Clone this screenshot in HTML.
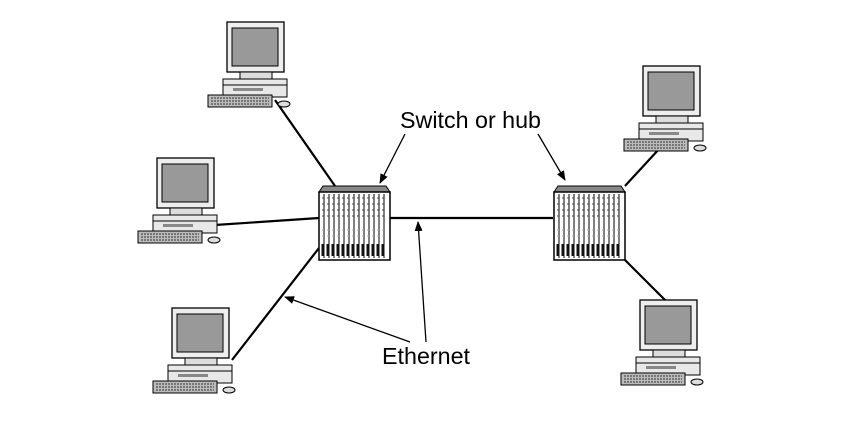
<!DOCTYPE html><html><head><style>body{margin:0;background:#fff}svg{display:block}</style></head><body>
<svg width="857" height="431" viewBox="0 0 857 431" xmlns="http://www.w3.org/2000/svg" font-family="Liberation Sans, sans-serif">
<defs>
<g id="pc">
<rect x="0" y="0" width="57" height="50" fill="#eee" stroke="#000" stroke-width="1.3"/>
<rect x="5" y="6" width="46" height="38" fill="#999" stroke="#000" stroke-width="1"/>
<rect x="13" y="50" width="32" height="7" fill="#ddd" stroke="#000"/>
<rect x="-4" y="57" width="64" height="18" fill="#e8e8e8" stroke="#000"/>
<line x1="-4" y1="63" x2="60" y2="63" stroke="#000"/>
<rect x="6" y="66" width="30" height="3" fill="#888"/>
<rect x="-19" y="73" width="64" height="12" fill="#bbb" stroke="#000"/>
<path d="M-16 76h58M-16 79h58M-16 82h58" stroke="#333" stroke-dasharray="2 1"/>
<ellipse cx="57" cy="82" rx="6" ry="3" fill="#ddd" stroke="#000"/>
</g>
<g id="sw">
<path d="M0 6 L4 0 H67 L71 6Z" fill="#888" stroke="#000"/>
<rect x="0" y="6" width="71" height="68" fill="#fff" stroke="#000" stroke-width="1.5"/>
<g stroke="#000" fill="none">
<path d="M5 8v64M10 8v64M15 8v64M20 8v64M25 8v64M30 8v64M35 8v64M40 8v64M45 8v64M50 8v64M55 8v64M60 8v64M65 8v64"/>
</g>
<path d="M4 58v12M9 58v12M14 58v12M19 58v12M24 58v12M29 58v12M34 58v12M39 58v12M44 58v12M49 58v12M54 58v12M59 58v12M64 58v12" stroke="#111" stroke-width="3"/>
<path d="M3 12h65M3 18h65M3 24h65M3 30h65" stroke="#444" stroke-dasharray="2 3"/>
<path d="M3 44h65M3 50h65" stroke="#aaa" stroke-dasharray="2 3"/>
</g>
<marker id="a" markerWidth="10" markerHeight="8" refX="9" refY="4" orient="auto" markerUnits="userSpaceOnUse"><path d="M0 0L10 4L0 8Z"/></marker>
</defs>
<g stroke="#000" stroke-width="2.2">
<line x1="275" y1="100" x2="335" y2="186"/>
<line x1="215" y1="225" x2="319" y2="218"/>
<line x1="232" y1="360" x2="319" y2="248"/>
<line x1="390" y1="218" x2="553" y2="218"/>
<line x1="625" y1="186" x2="660" y2="148"/>
<line x1="625" y1="260" x2="665" y2="300"/>
</g>
<use href="#pc" x="227" y="22"/>
<use href="#pc" x="157" y="158"/>
<use href="#pc" x="172" y="308"/>
<use href="#pc" x="643" y="66"/>
<use href="#pc" x="640" y="300"/>
<use href="#sw" x="319" y="186"/>
<use href="#sw" x="554" y="186"/>
<text x="400" y="128" font-size="23" textLength="141" lengthAdjust="spacingAndGlyphs">Switch or hub</text>
<text x="382" y="364" font-size="23" textLength="88" lengthAdjust="spacingAndGlyphs">Ethernet</text>
<g stroke="#000" stroke-width="1.3" marker-end="url(#a)">
<line x1="405" y1="134" x2="380" y2="183"/>
<line x1="538" y1="134" x2="565" y2="180"/>
<line x1="426" y1="342" x2="418" y2="222"/>
<line x1="410" y1="342" x2="285" y2="297"/>
</g>
</svg></body></html>
